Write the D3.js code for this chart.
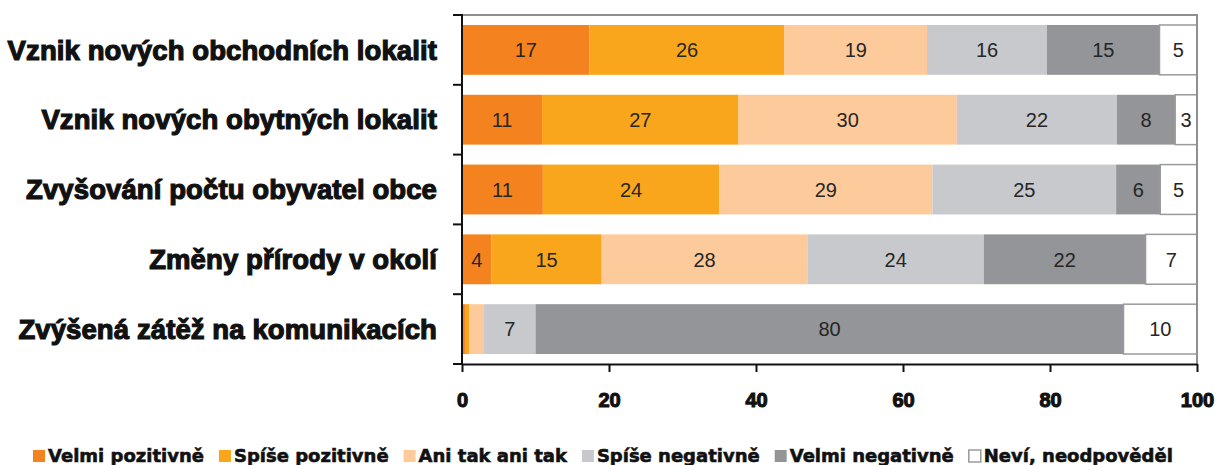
<!DOCTYPE html>
<html>
<head>
<meta charset="utf-8">
<script src="https://cdn.jsdelivr.net/npm/d3@7"></script>
<style>
  body { margin: 0; background: #fff; }
  svg { display: block; }
</style>
</head>
<body>
<div id="chart"></div>
<script>
const categories = [
    "Vznik nových obchodních lokalit",
    "Vznik nových obytných lokalit",
    "Zvyšování počtu obyvatel obce",
    "Změny přírody v okolí",
    "Zvýšená zátěž na komunikacích"
];
const seriesNames = ["Velmi pozitivně", "Spíše pozitivně", "Ani tak ani tak",
    "Spíše negativně", "Velmi negativně", "Neví, neodpověděl"];
const velmiPozitivne = [17, 11, 11, 4, 0.4];
const spisePozitivne = [26, 27, 24, 15, 0.6];
const aniTak = [19, 30, 29, 28, 2];
const spiseNegativne = [16, 22, 25, 24, 7];
const velmiNegativne = [15, 8, 6, 22, 80];
const nevi = [5, 3, 5, 7, 10];
const xTicks = [0, 20, 40, 60, 80, 100];

const colors = ["#f4821f", "#f9a61c", "#fdcb9b", "#c7c9cc", "#939598", "#ffffff"];
const seriesValues = [velmiPozitivne, spisePozitivne, aniTak, spiseNegativne, velmiNegativne, nevi];

const width = 1219, height = 465;
const margin = {top: 15, right: 22, bottom: 101, left: 462};

const svg = d3.select("#chart").append("svg")
    .attr("width", width)
    .attr("height", height);

const x = d3.scaleLinear().domain([0, 100]).range([margin.left, width - margin.right]);
const y = d3.scaleBand().domain(categories)
    .range([margin.top, height - margin.bottom])
    .paddingInner(0.286)
    .paddingOuter(0.143);

// 100% stacked rows
const rows = categories.map((c, i) => {
    const vals = seriesValues.map(s => s[i]);
    const total = d3.sum(vals);
    let acc = 0;
    return vals.map((v, k) => {
        const seg = {cat: c, k: k, v: v, x0: acc / total * 100, x1: (acc + v) / total * 100};
        acc += v;
        return seg;
    });
});

const bars = svg.append("g");
rows.forEach(row => {
    const g = bars.append("g");
    g.selectAll("rect")
        .data(row)
        .join("rect")
        .attr("x", d => x(d.x0))
        .attr("y", d => y(d.cat))
        .attr("width", d => x(d.x1) - x(d.x0))
        .attr("height", y.bandwidth())
        .attr("fill", d => colors[d.k])
        .attr("stroke", d => d.k === 5 ? "#9a9a9a" : "none")
        .attr("stroke-width", 1.5);
    g.selectAll("text")
        .data(row.filter(d => d.v >= 3))
        .join("text")
        .attr("x", d => x((d.x0 + d.x1) / 2))
        .attr("y", d => y(d.cat) + y.bandwidth() / 2)
        .attr("dy", "0.36em")
        .attr("text-anchor", "middle")
        .attr("font-family", "Liberation Sans, Arial, sans-serif")
        .attr("font-size", 20)
        .attr("fill", "#262626")
        .text(d => Math.round(d.v));
});

// plot frame (top and right)
const y0 = y.range()[0], y1 = y.range()[1];
svg.append("path")
    .attr("d", `M${x(0)},${y0}H${x(100)}V${y1}`)
    .attr("fill", "none")
    .attr("stroke", "#8f8f8f")
    .attr("stroke-width", 2);

// x axis
const xAxis = svg.append("g")
    .attr("transform", `translate(0,${y1})`)
    .call(d3.axisBottom(x).tickValues(xTicks).tickSize(8).tickPadding(21).tickSizeOuter(0));
xAxis.select(".domain").attr("stroke", "#111").attr("stroke-width", 2);
xAxis.selectAll(".tick line").attr("stroke", "#111").attr("stroke-width", 2);
xAxis.selectAll(".tick text")
    .attr("font-family", "Liberation Sans, Arial, sans-serif")
    .attr("font-weight", "bold")
    .attr("font-size", 20)
    .attr("fill", "#111")
    .attr("stroke", "#111")
    .attr("stroke-width", 1.1);

// y axis with ticks at band edges
const yAxis = svg.append("g");
yAxis.append("line")
    .attr("x1", x(0)).attr("x2", x(0))
    .attr("y1", y0 - 1).attr("y2", y1 + 1)
    .attr("stroke", "#111").attr("stroke-width", 2);
yAxis.selectAll(".ytick")
    .data(d3.range(categories.length + 1))
    .join("line")
    .attr("x1", x(0) - 9).attr("x2", x(0))
    .attr("y1", i => y0 + i * y.step())
    .attr("y2", i => y0 + i * y.step())
    .attr("stroke", "#111").attr("stroke-width", 2);
yAxis.selectAll("text")
    .data(categories)
    .join("text")
    .attr("x", x(0) - 25)
    .attr("y", d => y(d) + y.bandwidth() / 2)
    .attr("dy", "0.35em")
    .attr("text-anchor", "end")
    .attr("font-family", "Liberation Sans, Arial, sans-serif")
    .attr("font-weight", "bold")
    .attr("font-size", 27.5)
    .attr("letter-spacing", 0.1)
    .attr("fill", "#111")
    .attr("stroke", "#111")
    .attr("stroke-width", 1.2)
    .text(d => d);

// legend
const legend = svg.append("g").attr("transform", "translate(32,456)");
let lx = 0;
seriesNames.forEach((name, k) => {
    legend.append("rect")
        .attr("x", lx + 1).attr("y", -6)
        .attr("width", 12).attr("height", 12)
        .attr("fill", colors[k])
        .attr("stroke", k === 5 ? "#9a9a9a" : "none")
        .attr("stroke-width", 1.5);
    const t = legend.append("text")
        .attr("x", lx + 16)
        .attr("y", 0)
        .attr("dy", "0.36em")
        .attr("font-family", "DejaVu Sans, sans-serif")
        .attr("font-weight", "bold")
        .attr("font-size", 18)
        .attr("fill", "#111")
        .attr("stroke", "#111")
        .attr("stroke-width", 0.6)
        .text(name);
    lx += 16 + t.node().getComputedTextLength() + 14;
});
</script>
</body>
</html>
